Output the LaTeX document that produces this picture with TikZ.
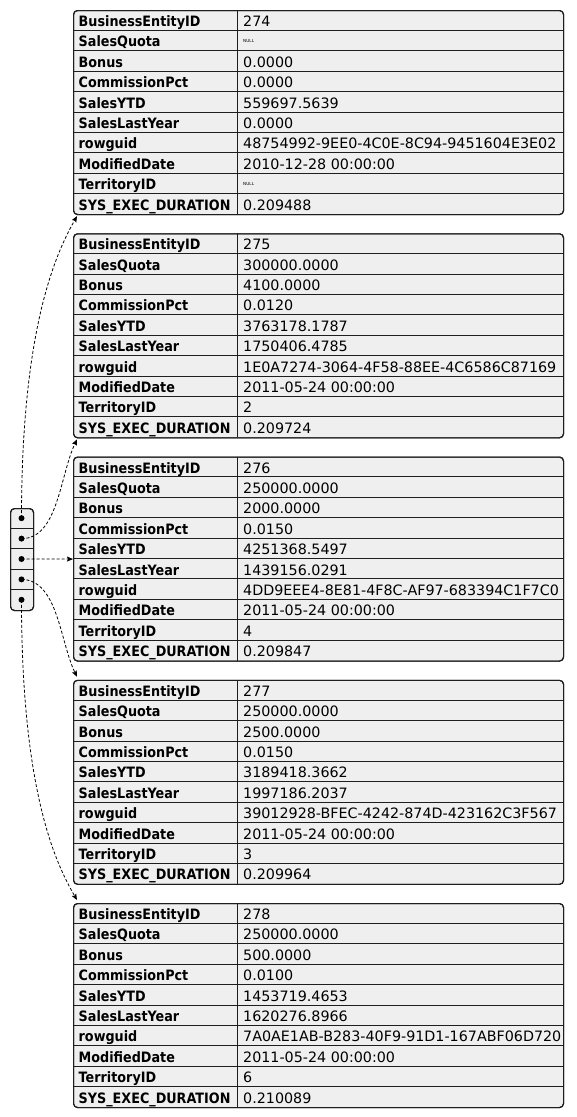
\documentclass[tikz,border=0pt]{standalone}
\usepackage{fontspec}
\setmainfont{DejaVu Sans}
\newfontfamily\keyfont[FakeStretch=0.893]{DejaVu Sans}
\usetikzlibrary{arrows.meta}

\definecolor{recfill}{RGB}{239,239,239}
\definecolor{recline}{RGB}{30,30,30}

\tikzset{
  recframe/.style={draw=recline, line width=1.1pt, fill=recfill, rounded corners=4pt,
    minimum width=490pt, minimum height=204pt, inner sep=0pt, anchor=north west},
  arrframe/.style={draw=recline, line width=1.1pt, fill=recfill, rounded corners=4pt,
    minimum width=23pt, minimum height=102pt, inner sep=0pt, anchor=north west},
  cell/.style={minimum width=23pt, minimum height=20.4pt, inner sep=0pt},
  rule/.style={draw=recline, line width=0.9pt},
  keytext/.style={anchor=base west, inner sep=0pt,
    font=\keyfont\bfseries\fontsize{14.3}{16}\selectfont},
  valtext/.style={anchor=base west, inner sep=0pt,
    font=\fontsize{14.3}{16}\selectfont},
  link/.style={draw=black, line width=0.8pt, dash pattern=on 3pt off 2pt,
    -{Stealth[length=6pt,width=5pt,inset=1pt]}},
}

\newcommand\nul{\raisebox{4.5pt}{\fontsize{4.2}{5}\selectfont NULL}}

% one record: name, top edge, list of ten values
\newcommand\dbrecord[3]{%
  \node[recframe] (#1) at (73,#2) {};
  \foreach \k in {1,...,9}
    \draw[rule] (73,#2+\k*20.4) -- (563,#2+\k*20.4);
  \draw[rule] (237,#2) -- (237,#2+204);
  \node[recframe, fill=none] at (73,#2) {};
  \foreach \key [count=\k from 0] in {BusinessEntityID,SalesQuota,Bonus,CommissionPct,
      SalesYTD,SalesLastYear,rowguid,ModifiedDate,TerritoryID,SYS\_EXEC\_DURATION}
    \node[keytext] at (78.5,#2+\k*20.4+16.5) {\key};
  \foreach \val [count=\k from 0] in {#3}
    \node[valtext] at (243,#2+\k*20.4+16.5) {\val};
}

\begin{document}
\begin{tikzpicture}[x=1pt, y=-1pt]
  \useasboundingbox (0,0) rectangle (576,1117);

  \dbrecord{t1}{10}{274,\nul,0.0000,0.0000,559697.5639,0.0000,
    48754992-9EE0-4C0E-8C94-9451604E3E02,2010-12-28 00:00:00,\nul,0.209488}
  \dbrecord{t2}{233.25}{275,300000.0000,4100.0000,0.0120,3763178.1787,1750406.4785,
    1E0A7274-3064-4F58-88EE-4C6586C87169,2011-05-24 00:00:00,2,0.209724}
  \dbrecord{t3}{456.5}{276,250000.0000,2000.0000,0.0150,4251368.5497,1439156.0291,
    4DD9EEE4-8E81-4F8C-AF97-683394C1F7C0,2011-05-24 00:00:00,4,0.209847}
  \dbrecord{t4}{679.75}{277,250000.0000,2500.0000,0.0150,3189418.3662,1997186.2037,
    39012928-BFEC-4242-874D-423162C3F567,2011-05-24 00:00:00,3,0.209964}
  \dbrecord{t5}{903}{278,250000.0000,500.0000,0.0100,1453719.4653,1620276.8966,
    7A0AE1AB-B283-40F9-91D1-167ABF06D720,2011-05-24 00:00:00,6,0.210089}

  % pointer array
  \node[arrframe] (arr) at (10,508) {};
  \foreach \k in {1,...,4}
    \draw[rule] (10,508+\k*20.4) -- (33,508+\k*20.4);
  \node[arrframe, fill=none] at (10,508) {};
  \foreach \k in {1,...,5}
    \node[cell] (a\k) at (21.5,508+\k*20.4-10.2) {};

  % pointers
  \draw[link] (a1.center) .. controls (21.5,330) and (55,255) .. ([xshift=4pt,yshift=-1pt]t1.south west);
  \draw[link] (a2.center) .. controls (58,538.9) and (60,475) .. ([xshift=4pt,yshift=-1pt]t2.south west);
  \draw[link] (a3.center) -- (t3.west);
  \draw[link] (a4.center) .. controls (58,579.7) and (60,642) .. ([xshift=4pt,yshift=3pt]t4.north west);
  \draw[link] (a5.center) .. controls (21.5,790) and (55,862) .. ([xshift=4pt,yshift=3pt]t5.north west);

  \foreach \k in {1,...,5}
    \fill (a\k.center) circle (3pt);
\end{tikzpicture}
\end{document}
